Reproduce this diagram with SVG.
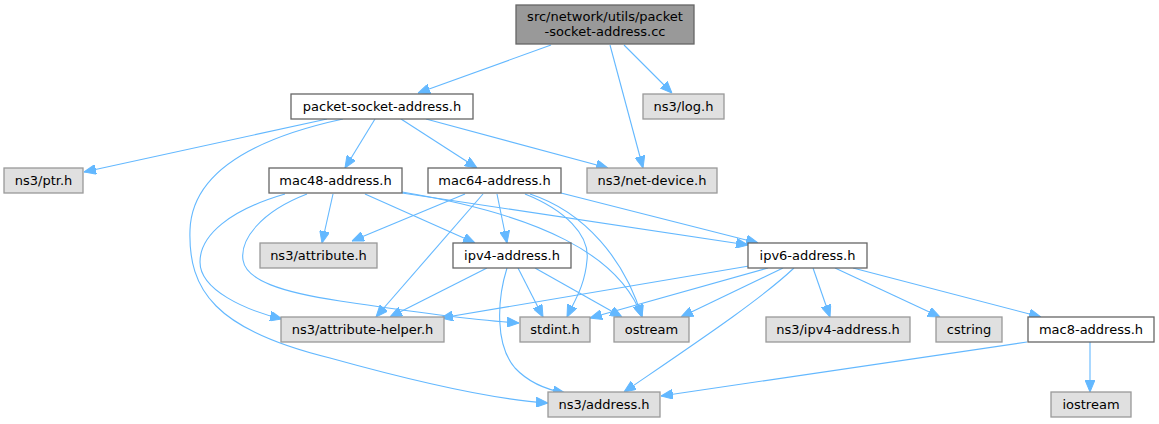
<svg xmlns="http://www.w3.org/2000/svg" width="1159" height="424" viewBox="0 0 1159 424">
<style>
.n rect{stroke-width:1.3}
.w rect{fill:#ffffff;stroke:#666666}
.g rect{fill:#e0e0e0;stroke:#999999}
.r rect{fill:#999999;stroke:#666666}
text{font-family:"DejaVu Sans","Liberation Sans",sans-serif;font-size:13px;fill:#000000;text-anchor:middle}
#edges path{fill:none;stroke:#63b8ff;stroke-width:1.1;marker-end:url(#ah)}
</style>
<defs>
<marker id="ah" markerUnits="userSpaceOnUse" markerWidth="12" markerHeight="10" viewBox="0 0 12 10" refX="12" refY="5" orient="auto">
<path d="M0,0 L12,5 L0,10 z" fill="#63b8ff" stroke="#63b8ff" stroke-width="1"/>
</marker>
</defs>
<rect width="1159" height="424" fill="#ffffff"/>
<g id="edges">
<path d="M551,45 L418,93"/>
<path d="M610,45 L643,168"/>
<path d="M624,45 L672,93"/>
<path d="M327,119 L84,172"/>
<path d="M343,119 C 260,137 192,170 190,230 C 188,290 215,330 330,358 C 420,383 500,400 548,403"/>
<path d="M375,119 L345,168"/>
<path d="M401,119 L477,168"/>
<path d="M426,119 L608,168"/>
<path d="M333,194 L322,243"/>
<path d="M285,194 C 230,210 200,235 200,262 C 200,290 245,310 282,319"/>
<path d="M307,194 C 260,212 240,240 243,260 C 246,280 280,292 340,301 C 400,310 470,320 519,323"/>
<path d="M365,194 L475,243"/>
<path d="M402,193 L748,245"/>
<path d="M402,192 C 540,215 620,255 642,317"/>
<path d="M465,194 L352,241"/>
<path d="M483,194 L376,317"/>
<path d="M497,194 L507,243"/>
<path d="M525,194 C 565,210 590,235 587,260 C 585,285 575,300 567,317"/>
<path d="M530,194 C 585,212 625,260 642,317"/>
<path d="M561,193 L758,243"/>
<path d="M487,268 L390,317"/>
<path d="M518,268 L543,317"/>
<path d="M535,268 L622,317"/>
<path d="M507,268 C 497,300 495,345 515,368 C 530,384 548,390 565,393"/>
<path d="M749,266 L441,318"/>
<path d="M768,268 L590,318"/>
<path d="M783,268 L681,317"/>
<path d="M794,268 C 760,300 700,340 624,392"/>
<path d="M813,268 L830,317"/>
<path d="M835,268 L940,317"/>
<path d="M853,268 L1041,317"/>
<path d="M1027,342 L661,396"/>
<path d="M1090,342 L1090,392"/>
</g>
<g id="node-root" class="n r"><rect x="516" y="5" width="178" height="39"/><text x="605" y="21">src/network/utils/packet</text><text x="605" y="36">-socket-address.cc</text></g>
<g id="node-psa" class="n w"><rect x="291" y="94" width="182" height="25"/><text x="382" y="111">packet-socket-address.h</text></g>
<g id="node-log" class="n g"><rect x="643" y="94" width="81" height="25"/><text x="683.5" y="111">ns3/log.h</text></g>
<g id="node-ptr" class="n g"><rect x="4" y="168" width="79" height="25"/><text x="43.5" y="185">ns3/ptr.h</text></g>
<g id="node-mac48" class="n w"><rect x="269" y="168" width="133" height="25"/><text x="335.5" y="185">mac48-address.h</text></g>
<g id="node-mac64" class="n w"><rect x="428" y="168" width="133" height="25"/><text x="494.5" y="185">mac64-address.h</text></g>
<g id="node-netdev" class="n g"><rect x="587" y="168" width="130" height="25"/><text x="652" y="185">ns3/net-device.h</text></g>
<g id="node-attribute" class="n g"><rect x="260" y="243" width="117" height="25"/><text x="318.5" y="260">ns3/attribute.h</text></g>
<g id="node-ipv4" class="n w"><rect x="453" y="243" width="118" height="25"/><text x="512" y="260">ipv4-address.h</text></g>
<g id="node-ipv6" class="n w"><rect x="748" y="243" width="119" height="25"/><text x="807.5" y="260">ipv6-address.h</text></g>
<g id="node-attrhelper" class="n g"><rect x="281" y="317" width="163" height="25"/><text x="362.5" y="334">ns3/attribute-helper.h</text></g>
<g id="node-stdint" class="n g"><rect x="520" y="317" width="70" height="25"/><text x="555" y="334">stdint.h</text></g>
<g id="node-ostream" class="n g"><rect x="614" y="317" width="75" height="25"/><text x="651.5" y="334">ostream</text></g>
<g id="node-ns3ipv4" class="n g"><rect x="766" y="317" width="144" height="25"/><text x="838" y="334">ns3/ipv4-address.h</text></g>
<g id="node-cstring" class="n g"><rect x="936" y="317" width="66" height="25"/><text x="969" y="334">cstring</text></g>
<g id="node-mac8" class="n w"><rect x="1028" y="317" width="126" height="25"/><text x="1091" y="334">mac8-address.h</text></g>
<g id="node-address" class="n g"><rect x="548" y="392" width="112" height="25"/><text x="604" y="409">ns3/address.h</text></g>
<g id="node-iostream" class="n g"><rect x="1051" y="392" width="80" height="25"/><text x="1091" y="409">iostream</text></g>
</svg>
